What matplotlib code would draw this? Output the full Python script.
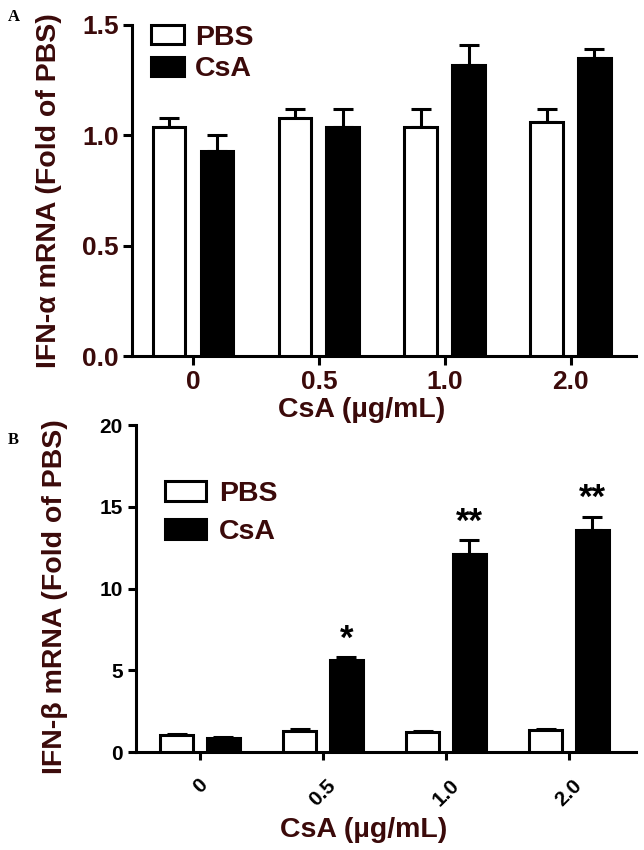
import matplotlib
matplotlib.use("Agg")
import matplotlib.pyplot as plt
import numpy as np
from matplotlib.patches import Patch

plt.rcParams['font.family'] = ['Liberation Sans', 'DejaVu Sans']

doses = ["0", "0.5", "1.0", "2.0"]
groups = ["PBS", "CsA"]

# Panel A: IFN-alpha
a_pbs = [1.04, 1.08, 1.04, 1.06]
a_pbs_err = [0.04, 0.04, 0.08, 0.06]
a_csa = [0.93, 1.04, 1.32, 1.35]
a_csa_err = [0.07, 0.08, 0.09, 0.04]

# Panel B: IFN-beta
b_pbs = [1.05, 1.3, 1.25, 1.35]
b_pbs_err = [0.05, 0.08, 0.06, 0.06]
b_csa = [0.85, 5.6, 12.1, 13.6]
b_csa_err = [0.05, 0.2, 0.85, 0.8]
b_sig = ["", "*", "**", "**"]

maroon = '#3b0a0a'
lw = 2.2
lab_fs = 20.5

fig = plt.figure(figsize=(6.44, 8.5), dpi=100)

def style(ax):
    for s in ['top', 'right']:
        ax.spines[s].set_visible(False)
    for s in ['left', 'bottom']:
        ax.spines[s].set_linewidth(lw)

def bars(ax, x, pbs, pbs_err, csa, csa_err, off, w):
    ax.bar(x - off, pbs, w, facecolor='white', edgecolor='black', linewidth=lw, zorder=3)
    ax.bar(x + off, csa, w, facecolor='black', edgecolor='black', linewidth=lw, zorder=3)
    ax.errorbar(x - off, pbs, yerr=[np.zeros(len(pbs)), pbs_err], fmt='none',
                ecolor='black', elinewidth=lw, capsize=7, capthick=lw, zorder=2)
    ax.errorbar(x + off, csa, yerr=[np.zeros(len(csa)), csa_err], fmt='none',
                ecolor='black', elinewidth=lw, capsize=7, capthick=lw, zorder=2)

# ---- Panel A ----
axA = fig.add_axes([132/644, 1-356/850, (636-132)/644, (356-25)/850])
x = np.arange(len(doses))
bars(axA, x, a_pbs, a_pbs_err, a_csa, a_csa_err, 0.19, 0.26)
axA.set_ylim(0, 1.5)
axA.set_xlim(-0.485, 3.52)
axA.set_yticks([0, 0.5, 1.0, 1.5])
axA.set_yticklabels(["0.0", "0.5", "1.0", "1.5"])
axA.set_xticks(x)
axA.set_xticklabels(doses)
style(axA)
axA.tick_params(axis='both', width=lw, length=6.5, labelsize=19, labelcolor=maroon)
axA.tick_params(axis='y', pad=3)
for t in axA.get_xticklabels() + axA.get_yticklabels():
    t.set_fontweight('bold')
axA.set_ylabel("IFN-α mRNA (Fold of PBS)", fontsize=lab_fs, fontweight='bold', color=maroon)
axA.yaxis.set_label_coords(-0.139, 0.5)
axA.set_xlabel("CsA (µg/mL)", fontsize=lab_fs, fontweight='bold', color=maroon, va='top')
axA.xaxis.set_label_coords(0.456, -0.124)
hA = [Patch(facecolor='white', edgecolor='black', linewidth=lw, label=groups[0]),
      Patch(facecolor='black', edgecolor='black', linewidth=lw, label=groups[1])]
legA = axA.legend(handles=hA, loc='upper left', bbox_to_anchor=(0.015, 1.035), frameon=False,
                  handlelength=1.15, handleheight=0.65, handletextpad=0.4, labelspacing=0.2,
                  prop={'size': lab_fs, 'weight': 'bold'}, borderaxespad=0)
for t in legA.get_texts():
    t.set_color(maroon)

# ---- Panel B ----
axB = fig.add_axes([136/644, 1-752/850, (636-136)/644, (752-425)/850])
bars(axB, x, b_pbs, b_pbs_err, b_csa, b_csa_err, 0.19, 0.27)
axB.set_ylim(0, 20)
axB.set_xlim(-0.52, 3.545)
axB.set_yticks([0, 5, 10, 15, 20])
axB.set_xticks(x)
axB.set_xticklabels(doses, rotation=45, ha='center', va='top')
style(axB)
axB.tick_params(axis='both', width=lw, length=6, labelsize=15, labelcolor='black')
axB.tick_params(axis='x', pad=11, labelsize=15)
for t in axB.get_xticklabels() + axB.get_yticklabels():
    t.set_fontweight('bold')
for i, s in enumerate(b_sig):
    if s:
        axB.text(x[i] + 0.19, b_csa[i] + b_csa_err[i] + 0.1, s, ha='center', va='bottom',
                 fontsize=25, fontweight='bold', color='black')
axB.set_ylabel("IFN-β mRNA (Fold of PBS)", fontsize=lab_fs, fontweight='bold', color=maroon)
axB.yaxis.set_label_coords(-0.136, 0.475)
axB.set_xlabel("CsA (µg/mL)", fontsize=lab_fs, fontweight='bold', color=maroon, va='top')
axB.xaxis.set_label_coords(0.456, -0.199)
hB = [Patch(facecolor='white', edgecolor='black', linewidth=lw, label=groups[0]),
      Patch(facecolor='black', edgecolor='black', linewidth=lw, label=groups[1])]
legB = axB.legend(handles=hB, loc='upper left', bbox_to_anchor=(0.035, 0.865), frameon=False,
                  handlelength=1.45, handleheight=0.7, handletextpad=0.45, labelspacing=0.45,
                  prop={'size': lab_fs, 'weight': 'bold'}, borderaxespad=0)
for t in legB.get_texts():
    t.set_color(maroon)

fig.text(8/644, 1-17/850, "A", fontsize=12, fontweight='bold', family='Liberation Serif', va='center')
fig.text(8/644, 1-440/850, "B", fontsize=12, fontweight='bold', family='Liberation Serif', va='center')

fig.savefig("out.png", dpi=100)
